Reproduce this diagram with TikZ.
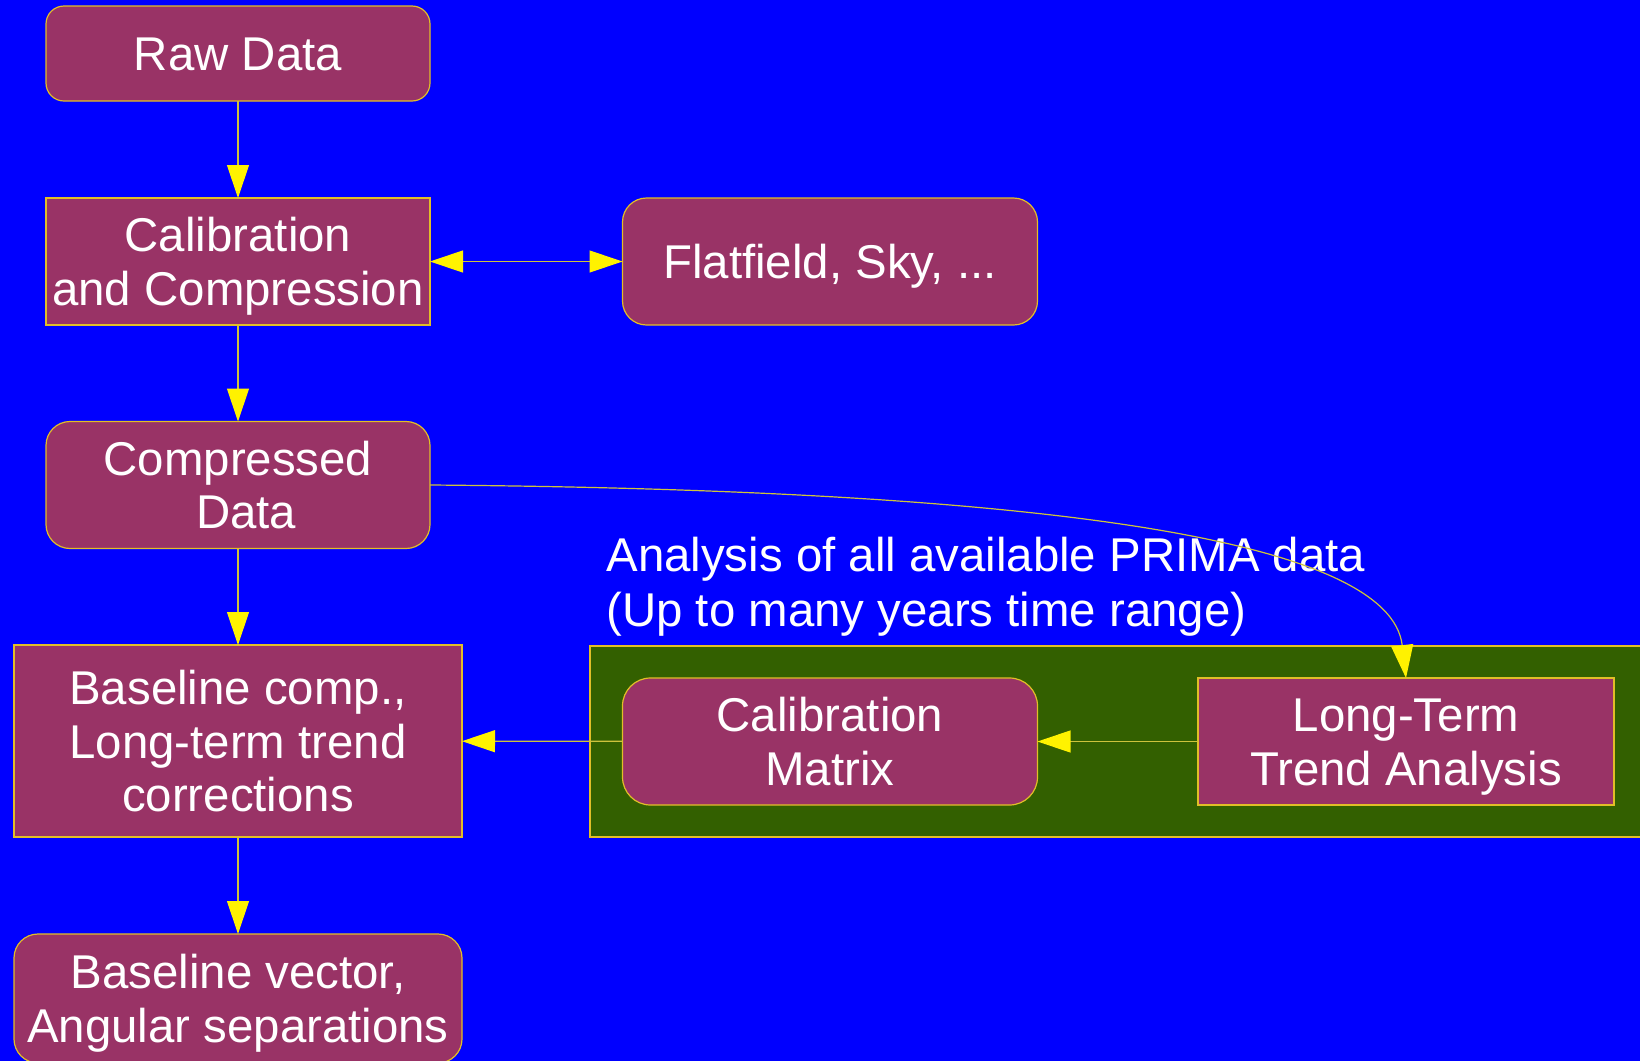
\documentclass[tikz,border=0pt]{standalone}
\usepackage{fontspec}
\setmainfont{Liberation Sans}
\usetikzlibrary{arrows.meta}
\definecolor{bgblue}{RGB}{0,0,255}
\definecolor{boxfill}{RGB}{153,51,102}
\definecolor{grp}{RGB}{51,96,0}
\definecolor{bdr}{RGB}{225,190,40}
\definecolor{lnc}{RGB}{205,195,60}
\newcommand\boxlines[1]{\begin{tabular}[b]{@{}c@{}}#1\end{tabular}}
\renewcommand\arraystretch{1}
\tikzset{
  box/.style={draw=bdr, line width=0.6pt, fill=boxfill, text=white, inner sep=0pt, outer sep=0pt,
    font=\fontsize{23.7}{26.65}\selectfont, text depth=0pt},
  lnone/.style={text height=17pt},
  lntwo/.style={text height=43.65pt},
  lnthree/.style={text height=70.3pt},
  roundbox/.style={box, rounded corners=9pt},
  conn/.style={draw=lnc, line width=0.6pt, -{Triangle[length=16.5pt,width=11pt,color=yellow]}},
  biconn/.style={draw=lnc, line width=0.6pt, {Triangle[length=16.5pt,width=11pt,color=yellow]}-{Triangle[length=16.5pt,width=11pt,color=yellow]}},
  lbl/.style={text=white, inner sep=0pt, align=left, font=\fontsize{23.7}{27.5}\selectfont}
}
\begin{document}
\begin{tikzpicture}[x=0.5pt,y=-0.5pt]
\useasboundingbox (0,0) rectangle (1640,1061);
\clip (0,0) rectangle (1640,1061);
\fill[bgblue] (0,0) rectangle (1640,1061);
% group background
\draw[draw=bdr, line width=0.6pt, fill=grp] (590,646) rectangle (1660,837);
% nodes
\node[roundbox, lnone, minimum width=192pt, minimum height=47.5pt] (raw) at (238,53.5) {\boxlines{Raw Data}};
\node[box, lntwo, minimum width=192pt, minimum height=63.5pt] (cal) at (238,261.5) {\boxlines{Calibration\\and Compression}};
\node[roundbox, lnone, minimum width=207.5pt, minimum height=63.5pt, rounded corners=12pt] (flat) at (830,261.5) {\boxlines{Flatfield, Sky, ...}};
\node[roundbox, lntwo, minimum width=192pt, minimum height=63.5pt, rounded corners=12pt] (cd) at (238,485) {\boxlines{Compressed\\\hspace*{0.35em}Data}};
\node[box, lnthree, minimum width=224pt, minimum height=96pt] (bc) at (238,741) {\boxlines{Baseline comp.,\\Long-term trend\\corrections}};
\node[roundbox, lntwo, minimum width=224pt, minimum height=64.5pt, rounded corners=12pt] (bv) at (238,998.5) {\boxlines{Baseline vector,\\Angular separations}};
\node[roundbox, lntwo, minimum width=207.5pt, minimum height=63.5pt, rounded corners=14pt] (cm) at (830,741.5) {\boxlines{Calibration\\Matrix}};
\node[box, lntwo, minimum width=208pt, minimum height=63.5pt] (lt) at (1406,741.5) {\boxlines{Long-Term\\Trend Analysis}};
\node[lbl, anchor=north west] (ana) at (606,537) {Analysis of all available PRIMA data\\(Up to many years time range)};
% connectors
\draw[conn] (raw) -- (cal);
\draw[biconn] (cal) -- (flat);
\draw[conn] (cal) -- (cd);
\draw[conn] (cd) -- (bc);
\draw[conn] (bc) -- (bv);
\draw[conn] (cm) -- (bc);
\draw[conn] (lt) -- (cm);
\draw[conn] (cd.east) .. controls (1050,490) and (1390,540) .. (lt.north);
\end{tikzpicture}
\end{document}
